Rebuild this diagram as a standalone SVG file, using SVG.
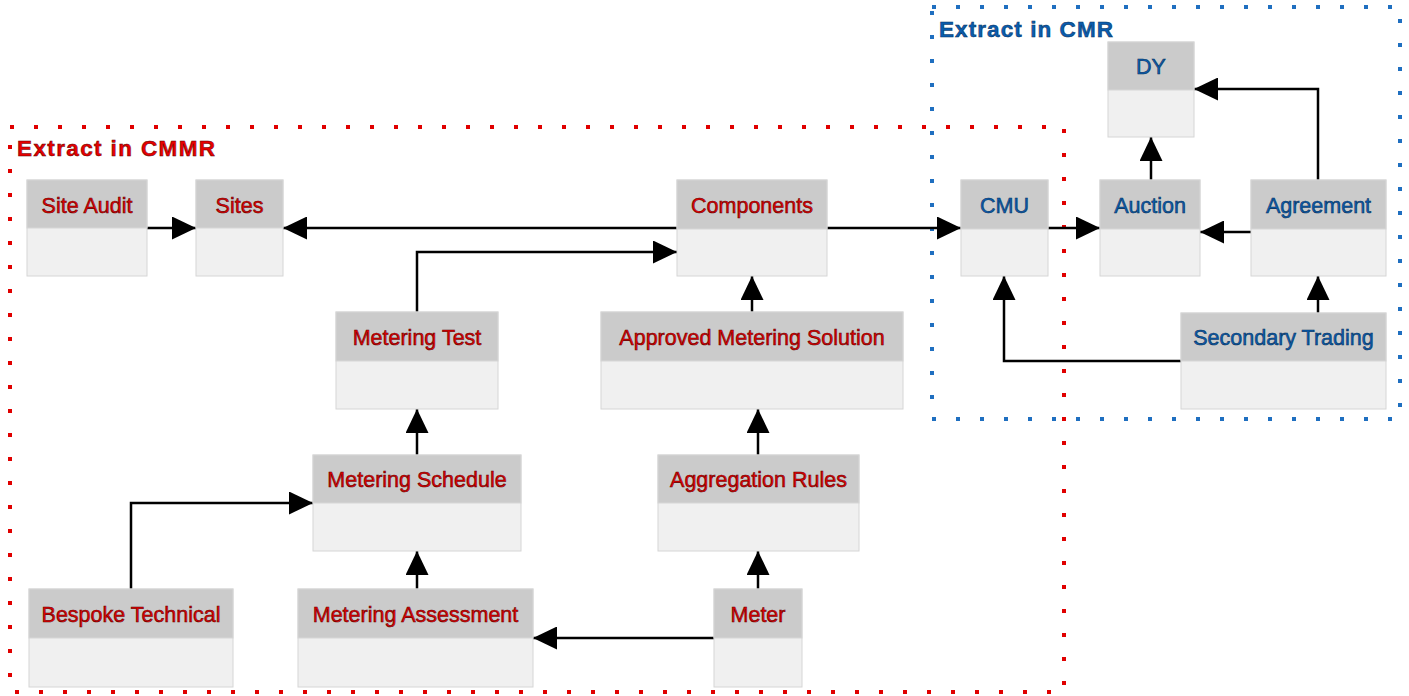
<svg xmlns="http://www.w3.org/2000/svg" width="1409" height="696" viewBox="0 0 1409 696">
<style>
.hd{fill:#cbcbcb;stroke:#d6d6d6;stroke-width:1}
.bd{fill:#f0f0f0;stroke:#d6d6d6;stroke-width:1}
.t{font-family:"Liberation Sans",Arial,sans-serif;font-size:21.5px;text-anchor:middle}
.r{fill:#e40000;stroke:#600000;stroke-width:0.55}
.b{fill:#0a5cae;stroke:#06305a;stroke-width:0.55}
.ttl{font-family:"Liberation Sans",Arial,sans-serif;font-size:22.5px;font-weight:bold}
.c{fill:none;stroke:#000;stroke-width:2.5}
</style>
<defs>
<marker id="ah" markerUnits="userSpaceOnUse" markerWidth="24" markerHeight="23" refX="24" refY="11.5" orient="auto">
<path d="M0,0 L24,11.5 L0,23 z" fill="#000"/>
</marker>
</defs>
<g id="regions">
<rect x="10" y="127" width="1054" height="565" fill="none" stroke="#e00000" stroke-width="4" stroke-dasharray="4 20"/>
<rect x="932" y="7" width="468" height="412" fill="none" stroke="#1f6fc0" stroke-width="4" stroke-dasharray="4 20"/>
<text class="ttl" x="17" y="156" fill="#e80000" stroke="#600000" stroke-width="0.5" textLength="198" lengthAdjust="spacing">Extract in CMMR</text>
<text class="ttl" x="939" y="37" fill="#0a5cae" stroke="#06305a" stroke-width="0.5" textLength="174" lengthAdjust="spacing">Extract in CMR</text>
</g>
<g id="connectors">
<line class="c" x1="147" y1="228" x2="196" y2="228" marker-end="url(#ah)"/>
<line class="c" x1="677" y1="228" x2="283" y2="228" marker-end="url(#ah)"/>
<polyline class="c" points="417,312 417,252 677,252" marker-end="url(#ah)"/>
<line class="c" x1="827" y1="228" x2="961" y2="228" marker-end="url(#ah)"/>
<line class="c" x1="752" y1="312" x2="752" y2="276" marker-end="url(#ah)"/>
<line class="c" x1="417" y1="455" x2="417" y2="409" marker-end="url(#ah)"/>
<line class="c" x1="758" y1="455" x2="758" y2="409" marker-end="url(#ah)"/>
<polyline class="c" points="131,589 131,503 313,503" marker-end="url(#ah)"/>
<line class="c" x1="417" y1="589" x2="417" y2="551" marker-end="url(#ah)"/>
<line class="c" x1="758" y1="589" x2="758" y2="551" marker-end="url(#ah)"/>
<line class="c" x1="714" y1="638" x2="533" y2="638" marker-end="url(#ah)"/>
<line class="c" x1="1048" y1="228" x2="1100" y2="228" marker-end="url(#ah)"/>
<line class="c" x1="1251" y1="232" x2="1200" y2="232" marker-end="url(#ah)"/>
<line class="c" x1="1151" y1="180" x2="1151" y2="137" marker-end="url(#ah)"/>
<polyline class="c" points="1318,180 1318,89 1194,89" marker-end="url(#ah)"/>
<line class="c" x1="1318" y1="313" x2="1318" y2="276" marker-end="url(#ah)"/>
<polyline class="c" points="1181,361 1004,361 1004,276" marker-end="url(#ah)"/>
</g>
<g id="site-audit"><rect class="bd" x="27" y="180" width="120" height="96"/><rect class="hd" x="27" y="180" width="120" height="48"/><text class="t r" x="87" y="213">Site Audit</text></g>
<g id="sites"><rect class="bd" x="196" y="180" width="87" height="96"/><rect class="hd" x="196" y="180" width="87" height="48"/><text class="t r" x="239.5" y="213">Sites</text></g>
<g id="components"><rect class="bd" x="677" y="180" width="150" height="96"/><rect class="hd" x="677" y="180" width="150" height="49"/><text class="t r" x="752" y="213">Components</text></g>
<g id="approved-metering-solution"><rect class="bd" x="601" y="312" width="302" height="97"/><rect class="hd" x="601" y="312" width="302" height="49"/><text class="t r" x="752" y="345">Approved Metering Solution</text></g>
<g id="metering-test"><rect class="bd" x="336" y="312" width="162" height="97"/><rect class="hd" x="336" y="312" width="162" height="49"/><text class="t r" x="417" y="345">Metering Test</text></g>
<g id="metering-schedule"><rect class="bd" x="313" y="455" width="208" height="96"/><rect class="hd" x="313" y="455" width="208" height="48"/><text class="t r" x="417" y="487">Metering Schedule</text></g>
<g id="aggregation-rules"><rect class="bd" x="658" y="455" width="201" height="96"/><rect class="hd" x="658" y="455" width="201" height="48"/><text class="t r" x="758.5" y="487">Aggregation Rules</text></g>
<g id="bespoke-technical"><rect class="bd" x="29" y="589" width="204" height="98"/><rect class="hd" x="29" y="589" width="204" height="49"/><text class="t r" x="131" y="622">Bespoke Technical</text></g>
<g id="metering-assessment"><rect class="bd" x="298" y="589" width="235" height="98"/><rect class="hd" x="298" y="589" width="235" height="49"/><text class="t r" x="415.5" y="622">Metering Assessment</text></g>
<g id="meter"><rect class="bd" x="714" y="589" width="88" height="98"/><rect class="hd" x="714" y="589" width="88" height="49"/><text class="t r" x="758" y="622">Meter</text></g>
<g id="cmu"><rect class="bd" x="961" y="180" width="87" height="96"/><rect class="hd" x="961" y="180" width="87" height="49"/><text class="t b" x="1004.5" y="213">CMU</text></g>
<g id="auction"><rect class="bd" x="1100" y="180" width="100" height="96"/><rect class="hd" x="1100" y="180" width="100" height="49"/><text class="t b" x="1150" y="213">Auction</text></g>
<g id="agreement"><rect class="bd" x="1251" y="180" width="135" height="96"/><rect class="hd" x="1251" y="180" width="135" height="49"/><text class="t b" x="1318.5" y="213">Agreement</text></g>
<g id="secondary-trading"><rect class="bd" x="1181" y="313" width="205" height="96"/><rect class="hd" x="1181" y="313" width="205" height="48"/><text class="t b" x="1283.5" y="345">Secondary Trading</text></g>
<g id="dy"><rect class="bd" x="1108" y="42" width="86" height="95"/><rect class="hd" x="1108" y="42" width="86" height="48"/><text class="t b" x="1151" y="74">DY</text></g>
</svg>
